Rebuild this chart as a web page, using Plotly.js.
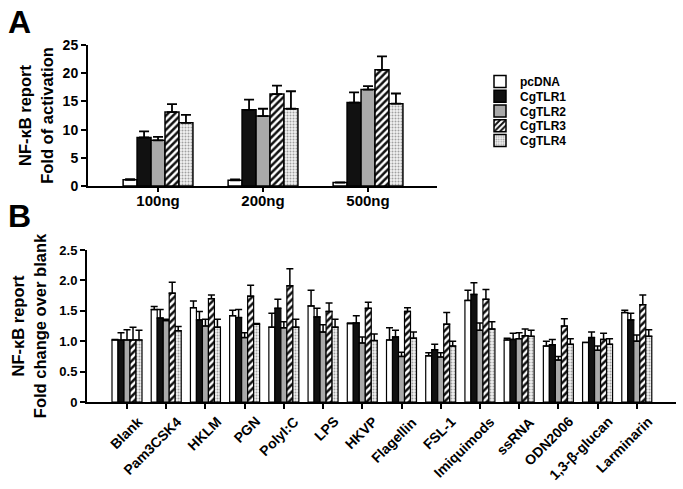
<!DOCTYPE html>
<html>
<head>
<meta charset="utf-8">
<script src="https://cdn.plot.ly/plotly-3.0.1.min.js"></script>
<style>html,body{margin:0;padding:0;background:#fff;}#chart{width:683px;height:489px;}</style>
</head>
<body>
<div id="chart"></div>
<script>
// ---------- DATA ----------
const seriesNames = ["pcDNA", "CgTLR1", "CgTLR2", "CgTLR3", "CgTLR4"];

// Panel A
const doseCategories = ["100ng", "200ng", "500ng"];
const pcDNA_A  = [1.1, 1.0, 0.6];
const pcDNA_A_err = [0.1, 0.15, 0.05];
const tlr1_A   = [8.6, 13.5, 14.8];
const tlr1_A_err = [1.1, 1.8, 1.8];
const tlr2_A   = [8.1, 12.4, 17.1];
const tlr2_A_err = [0.6, 1.3, 0.6];
const tlr3_A   = [13.1, 16.3, 20.6];
const tlr3_A_err = [1.4, 1.5, 2.4];
const tlr4_A   = [11.2, 13.7, 14.6];
const tlr4_A_err = [1.4, 3.1, 1.8];
const yTicksA = [0, 5, 10, 15, 20, 25];

// Panel B
const ligandCategories = ["Blank", "Pam3CSK4", "HKLM", "PGN", "PolyI:C", "LPS", "HKVP",
  "Flagellin", "FSL-1", "Imiquimods", "ssRNA", "ODN2006", "1,3-β-glucan", "Larminarin"];
const pcDNA_B = [1.02, 1.52, 1.55, 1.42, 1.23, 1.58, 1.29, 1.02, 0.76, 1.67, 1.02, 0.92, 0.98, 1.47];
const pcDNA_B_err = [0.01, 0.05, 0.11, 0.09, 0.23, 0.26, 0.01, 0.20, 0.05, 0.17, 0.03, 0.08, 0.0, 0.04];
const tlr1_B = [1.02, 1.38, 1.35, 1.39, 1.54, 1.40, 1.30, 1.07, 0.86, 1.77, 1.03, 0.94, 1.06, 1.35];
const tlr1_B_err = [0.12, 0.14, 0.14, 0.13, 0.15, 0.14, 0.12, 0.11, 0.09, 0.19, 0.10, 0.09, 0.09, 0.11];
const tlr2_B = [1.02, 1.34, 1.25, 1.06, 1.22, 1.15, 0.97, 0.75, 0.74, 1.18, 1.04, 0.69, 0.85, 1.00];
const tlr2_B_err = [0.17, 0.02, 0.11, 0.08, 0.10, 0.12, 0.10, 0.07, 0.07, 0.12, 0.10, 0.06, 0.07, 0.10];
const tlr3_B = [1.02, 1.79, 1.70, 1.74, 1.91, 1.49, 1.54, 1.49, 1.28, 1.69, 1.09, 1.25, 1.03, 1.60];
const tlr3_B_err = [0.21, 0.18, 0.06, 0.18, 0.28, 0.14, 0.10, 0.06, 0.19, 0.16, 0.11, 0.12, 0.10, 0.16];
const tlr4_B = [1.02, 1.17, 1.23, 1.28, 1.23, 1.23, 1.01, 1.05, 0.92, 1.20, 1.08, 0.95, 0.95, 1.08];
const tlr4_B_err = [0.16, 0.07, 0.13, 0.01, 0.13, 0.13, 0.11, 0.10, 0.08, 0.12, 0.10, 0.09, 0.09, 0.11];
const yTicksB = [0, 0.5, 1.0, 1.5, 2.0, 2.5];
const yTickTextB = ["0", "0.5", "1.0", "1.5", "2.0", "2.5"];

// ---------- STYLE ----------
const FONT = "Liberation Sans, Arial, sans-serif";
const styles = [
  {color: "#ffffff", pattern: {shape: ""}},
  {color: "#111111", pattern: {shape: ""}},
  {color: "#a9a9a9", pattern: {shape: ""}},
  {color: "#ffffff", pattern: {shape: "/", fgcolor: "#111111", bgcolor: "#ffffff", size: 5, solidity: 0.5}},
  {color: "#e8e8e8", pattern: {shape: ".", fgcolor: "#a0a0a0", bgcolor: "#f3f3f3", size: 3, solidity: 0.35}}
];

const valsA = [pcDNA_A, tlr1_A, tlr2_A, tlr3_A, tlr4_A];
const errsA = [pcDNA_A_err, tlr1_A_err, tlr2_A_err, tlr3_A_err, tlr4_A_err];
const valsB = [pcDNA_B, tlr1_B, tlr2_B, tlr3_B, tlr4_B];
const errsB = [pcDNA_B_err, tlr1_B_err, tlr2_B_err, tlr3_B_err, tlr4_B_err];

const W = 683, H = 489;
const px = v => v / W, py = v => 1 - v / H;

const legendRows = [81.5, 96.3, 111, 125.8, 140.6];
const legendIds = ["legend", "legend2", "legend3", "legend4", "legend5"];

const wA = 0.133, wB = 0.153;
const traces = [];
seriesNames.forEach((name, k) => {
  const st = styles[k];
  traces.push({
    type: "bar", name: name, x: doseCategories, y: valsA[k],
    xaxis: "x", yaxis: "y",
    width: wA, offset: -2.5 * wA + k * wA,
    marker: {color: st.color, pattern: st.pattern, line: {color: "#000", width: 1.5}},
    error_y: {type: "data", symmetric: false, array: errsA[k], arrayminus: errsA[k].map(() => 0),
      color: "#000", thickness: 1.8, width: 5},
    legend: legendIds[k], showlegend: true
  });
  traces.push({
    type: "bar", name: name, x: ligandCategories, y: valsB[k],
    xaxis: "x2", yaxis: "y2",
    width: wB, offset: -2.5 * wB + k * wB,
    marker: {color: st.color, pattern: st.pattern, line: {color: "#000", width: 1.2}},
    error_y: {type: "data", symmetric: false, array: errsB[k], arrayminus: errsB[k].map(() => 0),
      color: "#000", thickness: 1.5, width: 3.5},
    showlegend: false
  });
});

const axisCommon = {
  showline: true, linecolor: "#000", linewidth: 2, ticks: "outside", ticklen: 5, tickwidth: 2,
  tickcolor: "#000", showgrid: false, zeroline: false, fixedrange: true
};

const layout = {
  width: W, height: H, margin: {l: 0, r: 0, t: 0, b: 0},
  paper_bgcolor: "#fff", plot_bgcolor: "rgba(0,0,0,0)",
  barmode: "overlay", showlegend: true,
  font: {family: FONT, color: "#000", weight: "bold"},
  xaxis: Object.assign({}, axisCommon, {
    domain: [px(88), px(437)], anchor: "y", type: "category", range: [-0.667, 2.657],
    ticklen: 4, ticklabelstandoff: -4,
    tickfont: {family: FONT, size: 15, weight: "bold"}
  }),
  yaxis: Object.assign({}, axisCommon, {
    domain: [py(186), py(45)], anchor: "x", range: [0, 25], tickvals: yTicksA,
    tickfont: {family: FONT, size: 14, weight: "bold"},
    title: {text: "NF-κB report<br>Fold of activation", font: {family: FONT, size: 16.5, weight: "bold"}, standoff: 5}
  }),
  xaxis2: Object.assign({}, axisCommon, {
    domain: [px(87), px(676)], anchor: "y2", type: "category", range: [-1.02, 14.0],
    showticklabels: false
  }),
  yaxis2: Object.assign({}, axisCommon, {
    domain: [py(402), py(250)], anchor: "x2", range: [0, 2.5], tickvals: yTicksB, ticktext: yTickTextB,
    tickfont: {family: FONT, size: 13, weight: "bold"},
    title: {text: "NF-κB report<br>Fold change over blank", font: {family: FONT, size: 16.5, weight: "bold"}, standoff: 9}
  }),
  annotations: [
    {text: "A", x: px(6), y: py(22), xref: "paper", yref: "paper", xanchor: "left", yanchor: "middle",
      showarrow: false, font: {family: FONT, size: 32, weight: "bold"}},
    {text: "B", x: px(6), y: py(216), xref: "paper", yref: "paper", xanchor: "left", yanchor: "middle",
      showarrow: false, font: {family: FONT, size: 32, weight: "bold"}}
  ]
};

legendIds.forEach((id, k) => {
  layout[id] = {
    x: px(480), y: py(legendRows[k]), xanchor: "left", yanchor: "middle",
    font: {family: FONT, size: 12, weight: "bold"}, bgcolor: "rgba(0,0,0,0)",
    itemwidth: 30, borderwidth: 0
  };
});

// Category tick labels for panel B (rotated, drawn as annotations at each category)
ligandCategories.forEach(cat => {
  layout.annotations.push({
    text: cat, x: cat, y: 0, xref: "x2", yref: "y2",
    xanchor: "right", yanchor: "top", xshift: 21, yshift: -9,
    textangle: -45, showarrow: false,
    font: {family: FONT, size: 14, weight: "bold"}
  });
});

Plotly.newPlot("chart", traces, layout, {staticPlot: true, displayModeBar: false});
</script>
</body>
</html>
